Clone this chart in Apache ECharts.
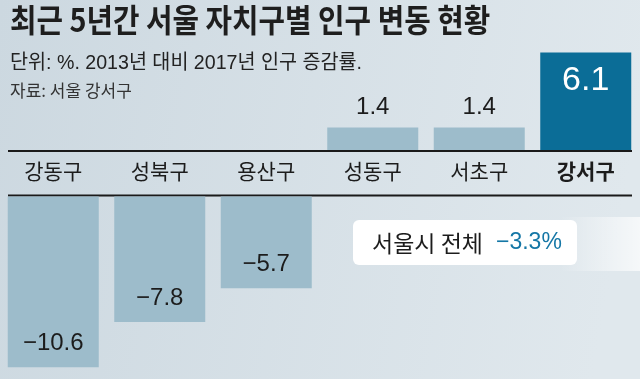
<!DOCTYPE html>
<html>
<head>
<meta charset="utf-8">
<script src="https://cdn.jsdelivr.net/npm/echarts@6/dist/echarts.min.js"></script>
<style>html,body{margin:0;padding:0;}#c{width:640px;height:379px;}</style>
</head>
<body>
<div id="c"></div>
<script>
// ---- data ----
const categories = ['강동구', '성북구', '용산구', '성동구', '서초구', '강서구'];
const values = [-10.6, -7.8, -5.7, 1.4, 1.4, 6.1];
const highlightCategory = '강서구';
const seoulTotal = -3.3;
const titleText = '최근 5년간 서울 자치구별 인구 변동 현황';
const subtitleText = '단위: %. 2013년 대비 2017년 인구 증감률.';
const sourceText = '자료: 서울 강서구';
const totalLabel = '서울시 전체';

// ---- styles ----
const NUM_FONT = "'Liberation Sans', Arial, 'Noto Sans CJK KR', sans-serif";
const KR_FONT = "'Noto Sans CJK KR', sans-serif";
const LIGHT = '#9dbccb';
const DARK = '#0b6d97';
const TEXT = '#1c1c1c';
const PX_PER_UNIT_TOP = 16;
const PX_PER_UNIT_BOTTOM = 16.1;
const minus = v => String(v).replace('-', '\u2212');

const topMax = 6.5, bottomMin = -11;
const topBase = 150, bottomBase = 196.5;

const topData = values.map((v, i) => {
  if (v <= 0) return null;
  if (categories[i] === highlightCategory) {
    return {
      value: v,
      itemStyle: { color: DARK },
      label: { position: 'insideTop', distance: 11, color: '#fff', fontSize: 34, fontFamily: NUM_FONT }
    };
  }
  return v;
});
const bottomData = values.map(v => (v < 0 ? v : null));

const chart = echarts.init(document.getElementById('c'));
chart.setOption({
  animation: false,
  backgroundColor: {
    type: 'linear', x: 0, y: 0, x2: 1, y2: 0.3,
    colorStops: [{ offset: 0, color: '#ccd8e0' }, { offset: 1, color: '#e0e8ed' }]
  },
  grid: [
    { left: 0, right: 1, top: topBase - topMax * PX_PER_UNIT_TOP, height: topMax * PX_PER_UNIT_TOP },
    { left: 0, right: 1, top: bottomBase, height: -bottomMin * PX_PER_UNIT_BOTTOM }
  ],
  xAxis: [
    {
      type: 'category', gridIndex: 0, data: categories,
      axisLine: { show: false }, axisTick: { show: false },
      axisLabel: {
        interval: 0, margin: 11, fontSize: 21, color: TEXT, fontFamily: KR_FONT,
        formatter: v => (v === highlightCategory ? '{b|' + v + '}' : v),
        rich: { b: { fontSize: 21, fontWeight: 'bold', color: TEXT, fontFamily: KR_FONT } }
      }
    },
    { type: 'category', gridIndex: 1, data: categories, show: false }
  ],
  yAxis: [
    { type: 'value', gridIndex: 0, min: 0, max: topMax, show: false },
    { type: 'value', gridIndex: 1, min: bottomMin, max: 0, show: false }
  ],
  series: [
    {
      type: 'bar', xAxisIndex: 0, yAxisIndex: 0, data: topData, barWidth: 91,
      itemStyle: { color: LIGHT },
      label: { show: true, position: 'top', distance: 8, fontSize: 24, color: TEXT, fontFamily: NUM_FONT }
    },
    {
      type: 'bar', xAxisIndex: 1, yAxisIndex: 1, data: bottomData, barWidth: 91,
      itemStyle: { color: LIGHT },
      label: {
        show: true, position: 'insideBottom', distance: 12, fontSize: 24, color: TEXT, fontFamily: NUM_FONT,
        formatter: p => minus(p.value)
      }
    }
  ],
  graphic: [
    {
      type: 'rect', left: 560, top: 217, z: 0,
      shape: { width: 80, height: 54 },
      style: {
        fill: { type: 'linear', x: 0, y: 0, x2: 1, y2: 0,
          colorStops: [{ offset: 0, color: 'rgba(255,255,255,0)' }, { offset: 1, color: 'rgba(255,255,255,0.7)' }] }
      }
    },
    {
      type: 'text', x: 10, y: 4, scaleX: 0.9,
      style: { text: titleText, fontSize: 32, fontWeight: 'bold', fill: '#1e1e1e', fontFamily: KR_FONT }
    },
    {
      type: 'text', x: 10, y: 53, scaleX: 0.98,
      style: { text: subtitleText, fontSize: 20, fill: '#222', fontFamily: "'Liberation Sans', 'Noto Sans CJK KR', sans-serif" }
    },
    {
      type: 'text', x: 10, y: 82,
      style: { text: sourceText, fontSize: 17, fill: '#333', fontFamily: KR_FONT }
    },
    { type: 'line', shape: { x1: 8, y1: 151, x2: 632, y2: 151 }, style: { stroke: '#1a1a1a', lineWidth: 2 } },
    { type: 'line', shape: { x1: 8, y1: 195.5, x2: 632, y2: 195.5 }, style: { stroke: '#1a1a1a', lineWidth: 2 } },
    {
      type: 'rect', shape: { x: 353, y: 220, width: 224, height: 45, r: 6 },
      style: { fill: '#ffffff' }
    },
    {
      type: 'text', x: 372, y: 243,
      style: { text: totalLabel, fontSize: 23, fill: TEXT, fontFamily: KR_FONT, verticalAlign: 'middle' }
    },
    {
      type: 'text', x: 496, y: 243,
      style: { text: minus(seoulTotal) + '%', fontSize: 23, fill: '#1577a6', fontFamily: NUM_FONT, verticalAlign: 'middle' }
    }
  ]
});
</script>
</body>
</html>
